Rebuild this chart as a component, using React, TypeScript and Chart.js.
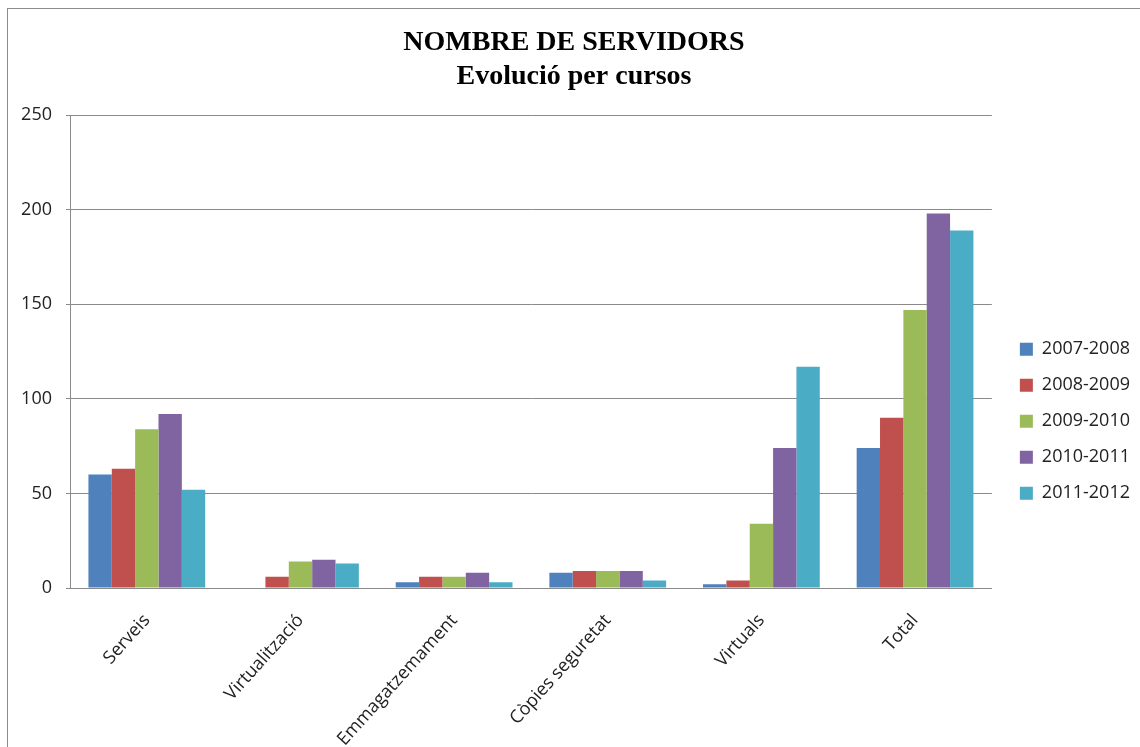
import React, { useEffect, useRef } from "react";
import { Chart, registerables } from "chart.js";

Chart.register(...registerables);

const categories = ["Serveis", "Virtualització", "Emmagatzemament", "Còpies seguretat", "Virtuals", "Total"];
const seriesNames = ["2007-2008", "2008-2009", "2009-2010", "2010-2011", "2011-2012"];
const s2007 = [60, 0, 3, 8, 2, 74];
const s2008 = [63, 6, 6, 9, 4, 90];
const s2009 = [84, 14, 6, 9, 34, 147];
const s2010 = [92, 15, 8, 9, 74, 198];
const s2011 = [52, 13, 3, 4, 117, 189];
const seriesColors = ["#4F81BD", "#C0504D", "#9BBB59", "#8064A2", "#4BACC6"];
const titleText = "NOMBRE DE SERVIDORS";
const subtitleText = "Evolució per cursos";
const yMax = 250;
const yStep = 50;

export default function App() {
  const ref = useRef<HTMLCanvasElement | null>(null);

  useEffect(() => {
    if (!ref.current) return;
    const values = [s2007, s2008, s2009, s2010, s2011];
    const labelFont = { family: "'Open Sans', sans-serif", size: 18 };
    const chart = new Chart(ref.current, {
      type: "bar",
      data: {
        labels: categories,
        datasets: seriesNames.map((name, i) => ({
          label: name,
          data: values[i],
          backgroundColor: seriesColors[i],
          borderWidth: 0,
          categoryPercentage: 0.76,
          barPercentage: 1,
        })),
      },
      options: {
        animation: false,
        responsive: false,
        maintainAspectRatio: false,
        layout: { padding: { left: 0, right: 0, top: 0, bottom: 0 } },
        plugins: {
          title: {
            display: true,
            text: titleText,
            color: "#000",
            font: { family: "'Liberation Serif', serif", size: 28, weight: "bold", lineHeight: 1.2 },
            padding: { top: 17, bottom: 0 },
          },
          subtitle: {
            display: true,
            text: subtitleText,
            color: "#000",
            font: { family: "'Liberation Serif', serif", size: 28, weight: "bold", lineHeight: 1.2 },
            padding: { top: 0, bottom: 22 },
          },
          legend: {
            position: "right",
            fullSize: true,
            title: { display: true, text: " ", padding: { top: 72, bottom: 0 }, font: { size: 12 } },
            labels: {
              boxWidth: 13,
              boxHeight: 13,
              padding: 18,
              color: "#222",
              font: labelFont,
            },
          },
          tooltip: { enabled: false },
        },
        scales: {
          x: {
            grid: { display: false, drawTicks: false },
            border: { display: true, color: "#8a8a8a", width: 1 },
            ticks: {
              color: "#222",
              font: labelFont,
              minRotation: 48,
              maxRotation: 48,
              padding: 22,
            },
            afterFit: (scale: any) => {
              scale.height = 159;
            },
          },
          y: {
            min: 0,
            max: yMax,
            grid: { color: "#8a8a8a", lineWidth: 1, tickLength: 4 },
            border: { display: true, color: "#8a8a8a", width: 1 },
            ticks: {
              stepSize: yStep,
              color: "#222",
              font: labelFont,
              padding: 14,
            },
            afterFit: (scale: any) => {
              scale.width = 62;
            },
          },
          gap: {
            type: "linear",
            position: "right",
            display: true,
            grid: { display: false, drawTicks: false },
            border: { display: false },
            ticks: { display: false },
            afterFit: (scale: any) => {
              scale.width = 10;
            },
          },
        },
      },
    });
    return () => chart.destroy();
  }, []);

  return (
    <div
      style={{
        position: "absolute",
        left: 7,
        top: 8,
        width: 1133,
        height: 739,
        borderTop: "1px solid #8c8c8c",
        borderLeft: "1px solid #8c8c8c",
        background: "#fff",
        overflow: "hidden",
      }}
    >
      <canvas ref={ref} width={1132} height={738} style={{ display: "block" }} />
    </div>
  );
}
